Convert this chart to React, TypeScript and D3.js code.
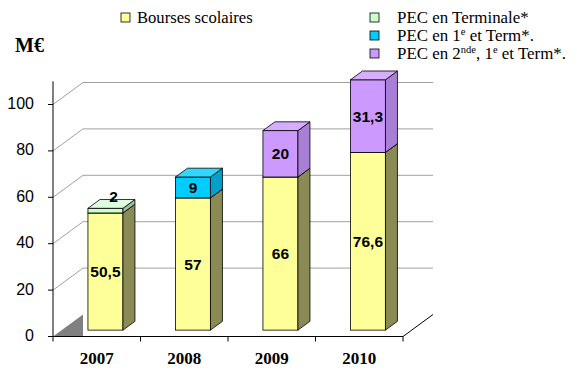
import React from 'react';
import * as d3 from 'd3';

const years = ['2007', '2008', '2009', '2010'];
const bourses = [50.5, 57, 66, 76.6];
const pecTerminale = [2, 0, 0, 0];
const pec1eTerm = [0, 9, 0, 0];
const pec2nde = [0, 0, 20, 31.3];
const yTicks = [0, 20, 40, 60, 80, 100];

const W = 577;
const H = 373;
const LEFT = 53;
const RIGHT = 403;
const BASE = 336.5;
const WALL = { dx: 30, dy: -22 };
const FRONT = 0.29;
const DEPTH = 0.4;

const keys = ['bourses', 'term', 'term1', 'nde'];
const seriesValues: Record<string, number[]> = {
  bourses,
  term: pecTerminale,
  term1: pec1eTerm,
  nde: pec2nde,
};
const colors: Record<string, { front: string; side: string; top: string }> = {
  bourses: { front: '#FFFF99', side: '#8A8A55', top: '#FFFFB8' },
  term: { front: '#CCFFCC', side: '#9FBF9F', top: '#DDFFDD' },
  term1: { front: '#00CCFF', side: '#009FCC', top: '#33D6FF' },
  nde: { front: '#CC99FF', side: '#A87FD6', top: '#D6ADFF' },
};

const rows = years.map((yr, i) => ({
  year: yr,
  bourses: bourses[i],
  term: pecTerminale[i],
  term1: pec1eTerm[i],
  nde: pec2nde[i],
}));

const fmt = (v: number) => String(v).replace('.', ',');

export default function App() {
  const y = d3.scaleLinear().domain([0, 110]).range([BASE, BASE - 110 * 2.32]);
  const x = d3
    .scaleBand<string>()
    .domain(years)
    .range([LEFT, RIGHT])
    .paddingInner(0.6)
    .paddingOuter(0.3);
  const stack = d3.stack<any>().keys(keys)(rows);
  const sx = WALL.dx * FRONT;
  const sy = WALL.dy * FRONT;
  const ddx = WALL.dx * DEPTH;
  const ddy = WALL.dy * DEPTH;
  const bw = x.bandwidth();
  const step = x.step();
  const boundaries = d3.range(years.length + 1).map((i) => LEFT + i * step);

  const segs: any[] = [];
  const labels: any[] = [];
  years.forEach((yr, i) => {
    stack.forEach((s) => {
      const [v0, v1] = s[i];
      const val = seriesValues[s.key][i];
      if (val <= 0) return;
      const x0 = (x(yr) as number) + sx;
      const x1 = x0 + bw;
      const yb = y(v0) + sy;
      const yt = y(v1) + sy;
      const c = colors[s.key];
      segs.push(
        <g key={yr + s.key}>
          <rect x={x0} y={yt} width={bw} height={yb - yt} fill={c.front} stroke="#000" strokeWidth={0.8} />
          <path
            d={`M${x1},${yb}L${x1 + ddx},${yb + ddy}L${x1 + ddx},${yt + ddy}L${x1},${yt}Z`}
            fill={c.side}
            stroke="#000"
            strokeWidth={0.8}
          />
          <path
            d={`M${x0},${yt}L${x1},${yt}L${x1 + ddx},${yt + ddy}L${x0 + ddx},${yt + ddy}Z`}
            fill={c.top}
            stroke="#000"
            strokeWidth={0.8}
          />
        </g>
      );
      const h = yb - yt;
      if (h < 12) {
        labels.push({ key: yr + s.key, x: x0 + bw / 2 + ddx / 2 + 2, y: yt + ddy - 3, t: fmt(val) });
      } else {
        labels.push({ key: yr + s.key, x: x0 + bw / 2, y: (yt + yb) / 2, t: fmt(val) });
      }
    });
  });

  const serif = '"Liberation Serif", "Times New Roman", serif';
  const sans = '"Liberation Sans", Arial, sans-serif';

  const legendRight = [
    { key: 'term', parts: [{ t: 'PEC en Terminale*' }] },
    { key: 'term1', parts: [{ t: 'PEC en 1' }, { t: 'e', sup: true }, { t: ' et Term*.' }] },
    { key: 'nde', parts: [{ t: 'PEC en 2' }, { t: 'nde', sup: true }, { t: ', 1' }, { t: 'e', sup: true }, { t: ' et Term*.' }] },
  ];

  return (
    <svg width={W} height={H} style={{ position: 'absolute', left: 0, top: 0, background: '#fff' }}>
      {yTicks
        .filter((t) => t > 0)
        .map((t) => (
          <path
            key={'g' + t}
            d={`M${LEFT},${y(t)}L${LEFT + WALL.dx},${y(t) + WALL.dy}L${RIGHT + WALL.dx},${y(t) + WALL.dy}`}
            fill="none"
            stroke="#A0A0A0"
            strokeWidth={1}
          />
        ))}
      <path
        d={`M${LEFT},${BASE}L${LEFT + WALL.dx},${BASE + WALL.dy}L${LEFT + WALL.dx},${BASE}Z`}
        fill="#808080"
      />
      <line x1={RIGHT} y1={BASE} x2={RIGHT + WALL.dx} y2={BASE + WALL.dy} stroke="#000" strokeWidth={1} />
      {segs}
      <line x1={LEFT} y1={y(110)} x2={LEFT} y2={BASE} stroke="#000" strokeWidth={1} />
      <line x1={LEFT} y1={BASE} x2={RIGHT} y2={BASE} stroke="#000" strokeWidth={1} />
      {yTicks.map((t) => (
        <g key={'t' + t}>
          <line x1={LEFT - 5} y1={y(t)} x2={LEFT} y2={y(t)} stroke="#000" />
          <text x={34} y={y(t) - 1} textAnchor="end" dominantBaseline="central" fontFamily={sans} fontSize={16}>
            {t}
          </text>
        </g>
      ))}
      {boundaries.map((b, i) => (
        <line key={'xb' + i} x1={b} y1={BASE} x2={b} y2={BASE + 5} stroke="#000" />
      ))}
      {years.map((yr) => (
        <text
          key={'xl' + yr}
          x={(x(yr) as number) + bw / 2}
          y={364}
          textAnchor="middle"
          fontFamily={serif}
          fontWeight="bold"
          fontSize={17}
        >
          {yr}
        </text>
      ))}
      {labels.map((l) => (
        <text
          key={'vl' + l.key}
          x={l.x}
          y={l.y}
          textAnchor="middle"
          dominantBaseline="central"
          fontFamily={sans}
          fontWeight="bold"
          fontSize={15.5}
        >
          {l.t}
        </text>
      ))}
      <text x={15} y={52} fontFamily={serif} fontWeight="bold" fontSize={20}>
        M€
      </text>
      <rect x={121} y={13} width={9} height={9} fill={colors.bourses.front} stroke="#000" strokeWidth={0.8} />
      <text x={137} y={22.5} fontFamily={serif} fontSize={16.6}>
        Bourses scolaires
      </text>
      {legendRight.map((l, i) => (
        <g key={'lr' + l.key}>
          <rect x={370} y={13 + i * 18} width={9} height={9} fill={colors[l.key].front} stroke="#000" strokeWidth={0.8} />
          <text x={397} y={22.5 + i * 18} fontFamily={serif} fontSize={16.9}>
            {l.parts.map((p: any, j: number) =>
              p.sup ? (
                <tspan key={j} fontSize={10.5} dy={-6}>
                  {p.t}
                </tspan>
              ) : (
                <tspan key={j} dy={j > 0 && (l.parts[j - 1] as any).sup ? 6 : 0}>
                  {p.t}
                </tspan>
              )
            )}
          </text>
        </g>
      ))}
    </svg>
  );
}
